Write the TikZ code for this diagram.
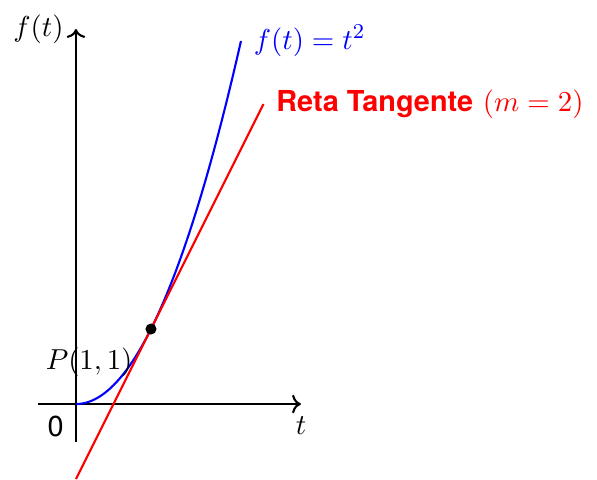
\documentclass[tikz,border=0pt,11pt]{standalone}
\usepackage{fontspec}
\setsansfont{TeX Gyre Heros}
\usepackage{amsmath}
\usepackage{tikz}
\usetikzlibrary{positioning, arrows.meta}
\tikzset{
  tanaxis/.style  = {->, thick},
  tancurve/.style = {thick, blue},
  tanline/.style  = {thick, red},
  tandot/.style   = {circle, fill=black, inner sep=0pt, minimum size=4.2pt},
  tanlabel/.style = {inner sep=4.5pt}
}

\begin{document}
\begin{tikzpicture}
\useasboundingbox (-1.013,-1.0) rectangle (6.947,5.387);
\coordinate (xmin) at (-0.5,0);
\coordinate (xmax) at (3,0);
\coordinate (ymin) at (0,-0.5);
\coordinate (ymax) at (0,5);
\coordinate (origin) at (0,0);

\draw[tanaxis] (xmin) -- (xmax);
\draw[tanaxis] (ymin) -- (ymax);
\node[tanlabel, below] (tlab) at (xmax) {$t$};
\node[tanlabel, left] (flab) at (ymax) {$f(t)$};
\node[tanlabel, below left] (zero) at (origin) {\textsf{0}};

\draw[tancurve, domain=0:2.2, samples=80] plot (\x, {\x*\x})
  node[tanlabel, right] (fname) {$f(t) = t^2$};
\draw[tanline, domain=0:2.5] plot (\x, {2*\x-1})
  node[tanlabel, right] (tname) {\textsf{\textbf{Reta Tangente}} $(m=2)$};

\node[tandot] (P) at (1,1) {};
\node[tanlabel, below left=1pt of P] (plab) {$P(1,1)$};
\end{tikzpicture}
\end{document}
